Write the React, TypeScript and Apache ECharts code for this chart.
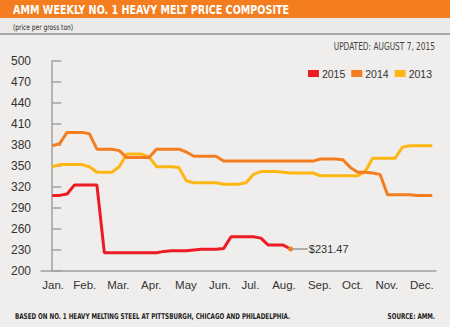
import React, { useEffect, useRef } from "react";
import * as echarts from "echarts";

const monthLabels = ["Jan.", "Feb.", "Mar.", "Apr.", "May", "Jun.", "Jul.", "Aug.", "Sep.", "Oct.", "Nov.", "Dec."];
// week position (0 = first week of January) where each month label sits
const monthWeeks = [0.13, 4.37, 8.88, 13.3, 17.95, 22.5, 26.6, 31.1, 35.9, 40.3, 44.9, 49.6];

const yTicks = { min: 200, max: 500, step: 30 };

const prices2015 = [308, 308, 310, 323, 323, 323, 323, 226, 226, 226, 226, 226, 226, 226, 226, 228, 229, 229, 229, 230, 231, 231, 231, 232, 249, 249, 249, 249, 247, 237, 237, 237, 231.47];
const prices2014 = [379, 382, 398, 398, 398, 396, 374, 374, 374, 372, 362, 362, 362, 362, 374, 374, 374, 374, 370, 364, 364, 364, 364, 357, 357, 357, 357, 357, 357, 357, 357, 357, 357, 357, 357, 357, 360, 360, 360, 359, 348, 341, 341, 340, 338, 309, 309, 309, 309, 308, 308, 308];
const prices2013 = [349, 352, 352, 352, 352, 349, 341, 341, 341, 349, 367, 367, 367, 363, 349, 349, 349, 348, 329, 326, 326, 326, 326, 324, 324, 324, 326, 338, 342, 342, 342, 341, 340, 340, 340, 340, 336, 336, 336, 336, 336, 336, 342, 361, 361, 361, 361, 377, 379, 379, 379, 379];

const FONT = "'DejaVu Sans Condensed', 'DejaVu Sans', sans-serif";
const LFONT = "'Liberation Sans', Arial, sans-serif";
const COLORS = { y2015: "#ec1c24", y2014: "#f47d20", y2013: "#fdb614" };

export default function App() {
  const ref = useRef<HTMLDivElement>(null);
  useEffect(() => {
    document.body.style.margin = "0";
    const chart = echarts.init(ref.current!, null, { renderer: "svg" });
    const toPts = (arr: number[]) => arr.map((v, i) => [i, v]);
    const last = prices2015.length - 1;
    const d2015: any[] = toPts(prices2015);
    d2015[last] = {
      value: [last, prices2015[last]],
      symbol: "circle",
      symbolSize: 5,
      itemStyle: { color: "#f47d20", borderWidth: 0 },
    };
    chart.setOption({
      animation: false,
      backgroundColor: "#efeeec",
      grid: { left: 41, right: 14, top: 61, bottom: 56 },
      legend: {
        data: ["2015", "2014", "2013"],
        right: 13,
        top: 63,
        icon: "rect",
        itemWidth: 11,
        itemHeight: 7,
        itemGap: 6,
        textStyle: { fontFamily: LFONT, fontSize: 10.5, color: "#333", padding: [0, 0, 0, -2] },
      },
      xAxis: {
        type: "value",
        min: -1.5,
        max: 51.5,
        splitLine: { show: false },
        axisTick: { show: false },
        axisLine: { show: true, lineStyle: { color: "#a0a0a0", width: 1.5 } },
        axisLabel: {
          customValues: monthWeeks,
          margin: 8,
          fontFamily: LFONT,
          fontSize: 11.5,
          color: "#333",
          formatter: (v: number) => {
            let best = 0;
            monthWeeks.forEach((w, i) => {
              if (Math.abs(w - v) < Math.abs(monthWeeks[best] - v)) best = i;
            });
            return monthLabels[best];
          },
        },
      },
      yAxis: {
        type: "value",
        min: yTicks.min,
        max: yTicks.max,
        interval: yTicks.step,
        splitLine: { show: false },
        axisLine: { show: true, lineStyle: { color: "#a0a0a0", width: 1.5 } },
        axisTick: { show: true, inside: true, length: 9, lineStyle: { color: "#a0a0a0", width: 1.5 } },
        axisLabel: { margin: 10, fontFamily: LFONT, fontSize: 12, color: "#333" },
      },
      series: [
        {
          name: "2013",
          type: "line",
          data: toPts(prices2013),
          symbol: "none",
          lineStyle: { color: COLORS.y2013, width: 3 },
          itemStyle: { color: COLORS.y2013 },
        },
        {
          name: "2014",
          type: "line",
          data: toPts(prices2014),
          symbol: "none",
          lineStyle: { color: COLORS.y2014, width: 3 },
          itemStyle: { color: COLORS.y2014 },
        },
        {
          name: "2015",
          type: "line",
          data: d2015,
          symbol: "none",
          lineStyle: { color: COLORS.y2015, width: 3 },
          itemStyle: { color: COLORS.y2015 },
          z: 3,
          markLine: {
            silent: true,
            symbol: "none",
            lineStyle: { color: "#999", width: 1.5, type: "solid" },
            label: {
              show: true,
              position: "end",
              distance: 1,
              formatter: "$" + prices2015[last].toFixed(2),
              fontFamily: LFONT,
              fontSize: 11,
              color: "#333",
            },
            data: [[{ coord: [last + 0.15, prices2015[last]] }, { coord: [last + 2.3, prices2015[last]] }]],
          },
        },
      ],
      graphic: [
        { type: "rect", shape: { x: 0, y: 0, width: 450, height: 18 }, style: { fill: "#f47d20" } },
        { type: "rect", shape: { x: 0, y: 18, width: 450, height: 15 }, style: { fill: "#ebeae8" } },
        { type: "rect", shape: { x: 0, y: 33, width: 450, height: 2 }, style: { fill: "#a8a8a8" } },
        {
          type: "text",
          x: 13,
          y: 10,
          scaleX: 0.82,
          style: {
            text: "AMM WEEKLY NO. 1 HEAVY MELT PRICE COMPOSITE",
            fill: "#fff",
            font: `bold 13px ${FONT}`,
            textVerticalAlign: "middle",
          },
        },
        {
          type: "text",
          x: 13,
          y: 27,
          scaleX: 0.82,
          style: { text: "(price per gross ton)", fill: "#222", font: `8px ${FONT}`, textVerticalAlign: "middle" },
        },
        {
          type: "text",
          x: 435,
          y: 46,
          scaleX: 0.75,
          style: {
            text: "UPDATED: AUGUST 7, 2015",
            fill: "#444",
            font: `11px ${FONT}`,
            textAlign: "right",
            textVerticalAlign: "middle",
          },
        },
        {
          type: "text",
          x: 15,
          y: 316,
          scaleX: 0.78,
          style: {
            text: "BASED ON NO. 1 HEAVY MELTING STEEL AT PITTSBURGH, CHICAGO AND PHILADELPHIA.",
            fill: "#222",
            font: `bold 8px ${FONT}`,
            textVerticalAlign: "middle",
          },
        },
        {
          type: "text",
          x: 435,
          y: 316,
          scaleX: 0.78,
          style: {
            text: "SOURCE: AMM.",
            fill: "#222",
            font: `bold 8px ${FONT}`,
            textAlign: "right",
            textVerticalAlign: "middle",
          },
        },
      ],
    });
    return () => chart.dispose();
  }, []);
  return <div ref={ref} style={{ width: 450, height: 327 }} />;
}
